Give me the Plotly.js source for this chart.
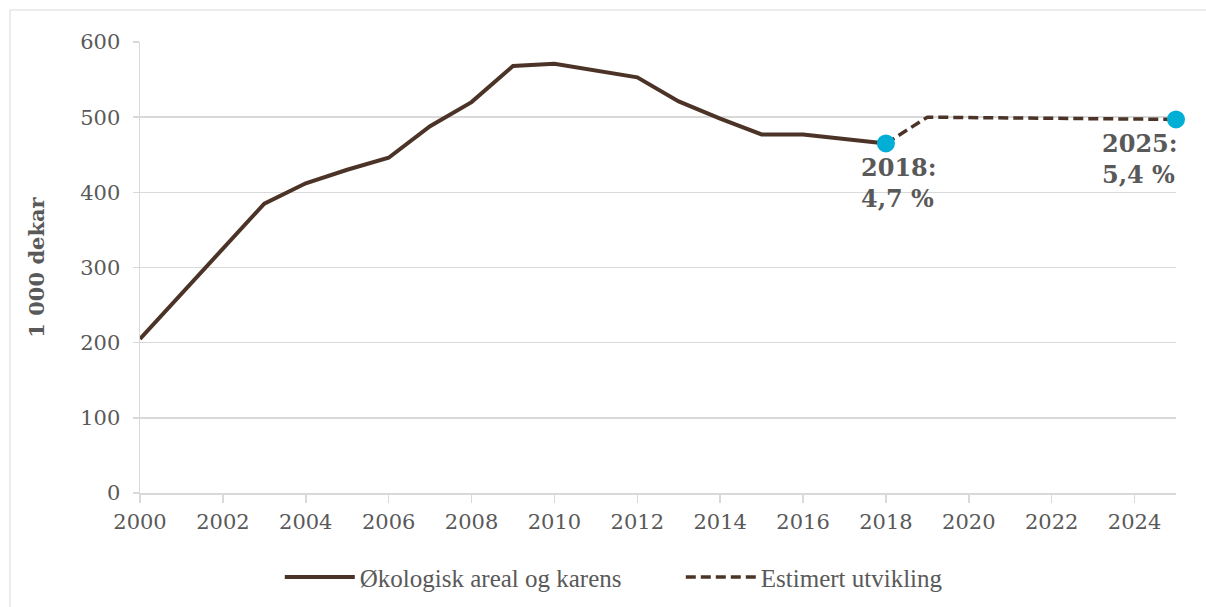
<!DOCTYPE html>
<html>
<head>
<meta charset="utf-8">
<script src="https://cdn.plot.ly/plotly-3.0.1.min.js"></script>
<style>html,body{margin:0;padding:0;background:#fff;}#chart{width:1206px;height:607px;}</style>
</head>
<body>
<div id="chart"></div>
<script>
const years = [2000,2001,2002,2003,2004,2005,2006,2007,2008,2009,2010,2011,2012,2013,2014,2015,2016,2017,2018];
const areal = [205,265,325,385,412,430,446,488,520,568,571,562,553,521,498,477,477,471,465];
const estYears = [2018,2019,2025];
const estValues = [465,500,497];
const markYears = [2018,2025];
const markValues = [465,497];
const markLabels = ["2018:<br>4,7 %","2025:<br>5,4 %"];
const xTicks = [2000,2002,2004,2006,2008,2010,2012,2014,2016,2018,2020,2022,2024];
const yTicks = [0,100,200,300,400,500,600];

const brown = '#4b3427';
const grey = '#595959';
const serif = 'DejaVu Serif, Liberation Serif, serif';

const traces = [
  {x: years, y: areal, type: 'scatter', mode: 'lines', name: 'Økologisk areal og karens',
   line: {color: brown, width: 4}},
  {x: estYears, y: estValues, type: 'scatter', mode: 'lines', name: 'Estimert utvikling',
   line: {color: brown, width: 3.5, dash: '10px,5px'}, cliponaxis: false},
  {x: markYears, y: markValues, type: 'scatter', mode: 'markers', showlegend: false,
   marker: {color: '#00aed6', size: 18}, hoverinfo: 'skip', cliponaxis: false}
];

const annotations = [
  {x: markYears[0], y: markValues[0], xref: 'x', yref: 'y', text: markLabels[0], showarrow: false,
   xanchor: 'left', yanchor: 'top', xshift: -27, yshift: -8, align: 'left',
   font: {family: serif, size: 24, color: grey, weight: 'bold'}},
  {x: markYears[1], y: markValues[1], xref: 'x', yref: 'y', text: markLabels[1], showarrow: false,
   xanchor: 'right', yanchor: 'top', xshift: 4, yshift: -8, align: 'left',
   font: {family: serif, size: 24, color: grey, weight: 'bold'}}
];

const layout = {
  width: 1206, height: 607,
  margin: {l: 140, r: 30, t: 42, b: 114},
  paper_bgcolor: '#fff', plot_bgcolor: '#fff',
  font: {family: serif, color: grey, size: 21},
  showlegend: true,
  legend: {orientation: 'h', xref: 'container', yref: 'container', x: 0.232, xanchor: 'left',
           y: 0.049, yanchor: 'middle', entrywidth: 316, entrywidthmode: 'pixels',
           font: {family: 'Liberation Serif, serif', size: 25, color: grey}, itemwidth: 70},
  xaxis: {range: [2000, 2025], tickvals: xTicks, ticktext: xTicks.map(String),
          showgrid: false, zeroline: false, showline: true, linecolor: '#d9d9d9', linewidth: 1.5,
          ticks: 'outside', ticklen: 8, tickcolor: '#d9d9d9', tickwidth: 1.5, ticklabelstandoff: 1,
          tickfont: {family: serif, size: 21, color: grey}},
  yaxis: {range: [0, 600], tickvals: yTicks, showgrid: true, gridcolor: '#d9d9d9', gridwidth: 1.5,
          zeroline: false, showline: true, linecolor: '#d9d9d9', linewidth: 1.5,
          ticks: 'outside', ticklen: 6, tickcolor: '#d9d9d9', tickwidth: 1.5, ticklabelstandoff: 8,
          tickfont: {family: serif, size: 21, color: grey},
          title: {text: '1 000 dekar', font: {family: serif, size: 21, color: grey, weight: 'bold'}, standoff: 30}},
  annotations: annotations,
  shapes: [
    {type: 'rect', xref: 'paper', yref: 'paper', x0: -0.1255, x1: 1.05, y0: -0.3, y1: 1.071,
     line: {color: '#d9d9d9', width: 1}, fillcolor: 'rgba(0,0,0,0)', layer: 'below'}
  ]
};

Plotly.newPlot('chart', traces, layout, {displayModeBar: false, staticPlot: true});
</script>
</body>
</html>
